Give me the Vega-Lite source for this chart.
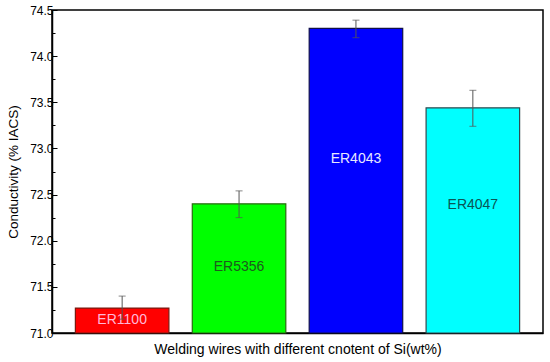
{
  "$schema": "https://vega.github.io/schema/vega-lite/v6.json",
  "width": 491,
  "height": 323,
  "autosize": {"type": "none"},
  "padding": {"left": 52, "top": 10, "right": 7, "bottom": 29},
  "background": "white",
  "data": {
    "values": [
      {"wire": "ER1100", "value": 71.27, "lo": 71.15, "hi": 71.40, "label_at": 71.14},
      {"wire": "ER5356", "value": 72.40, "lo": 72.25, "hi": 72.54, "label_at": 71.72},
      {"wire": "ER4043", "value": 74.30, "lo": 74.20, "hi": 74.39, "label_at": 72.89},
      {"wire": "ER4047", "value": 73.44, "lo": 73.24, "hi": 73.63, "label_at": 72.39}
    ]
  },
  "encoding": {
    "x": {
      "field": "wire",
      "type": "nominal",
      "sort": null,
      "scale": {"paddingInner": 0.2, "paddingOuter": 0.2},
      "axis": {
        "title": "Welding wires with different cnotent of Si(wt%)",
        "labels": false,
        "ticks": false,
        "domainColor": "#000",
        "domainWidth": 1.5,
        "titlePadding": 9,
        "titleFont": "Liberation Sans",
        "titleFontSize": 14,
        "titleFontWeight": "normal",
        "titleColor": "#000"
      }
    }
  },
  "layer": [
    {
      "mark": {"type": "bar", "strokeWidth": 1.2},
      "encoding": {
        "y": {
          "field": "value",
          "type": "quantitative",
          "scale": {"domain": [71, 74.5], "nice": false, "zero": false},
          "axis": {
            "title": "Conductivity (% IACS)",
            "values": [71, 71.5, 72, 72.5, 73, 73.5, 74, 74.5],
            "format": ".1f",
            "orient": "left",
            "grid": false,
            "tickSize": -5,
            "tickColor": "#000",
            "labelPadding": 4,
            "labelFont": "Liberation Sans",
            "labelFontSize": 12,
            "labelColor": "#000",
            "domainColor": "#000",
            "domainWidth": 1.5,
            "titleFont": "Liberation Sans",
            "titleFontSize": 13.5,
            "titleFontWeight": "normal",
            "titleColor": "#000",
            "titlePadding": 9
          }
        },
        "y2": {"datum": 71},
        "color": {
          "field": "wire",
          "type": "nominal",
          "scale": {
            "domain": ["ER1100", "ER5356", "ER4043", "ER4047"],
            "range": ["#ff0000", "#00ff00", "#0000ff", "#00ffff"]
          },
          "legend": null
        },
        "stroke": {
          "field": "wire",
          "type": "nominal",
          "scale": {
            "domain": ["ER1100", "ER5356", "ER4043", "ER4047"],
            "range": ["#7a1a10", "#2a6a10", "#10104a", "#304a50"]
          },
          "legend": null
        }
      }
    },
    {
      "mark": {"type": "text", "font": "Liberation Sans", "fontSize": 14, "baseline": "middle"},
      "encoding": {
        "y": {
          "field": "label_at",
          "type": "quantitative",
          "axis": {
            "orient": "left",
            "title": null,
            "values": [71.25, 71.75, 72.25, 72.75, 73.25, 73.75, 74.25],
            "labels": false,
            "domain": false,
            "grid": false,
            "tickSize": -3,
            "tickColor": "#000"
          }
        },
        "text": {"field": "wire"},
        "color": {
          "field": "wire",
          "type": "nominal",
          "scale": {
            "domain": ["ER1100", "ER5356", "ER4043", "ER4047"],
            "range": ["#ffb8d8", "#1d5a1d", "#e8e8ff", "#0a5555"]
          },
          "legend": null
        }
      }
    },
    {
      "mark": {"type": "rule", "color": "#555", "strokeWidth": 1},
      "encoding": {
        "y": {"field": "lo", "type": "quantitative", "axis": null},
        "y2": {"field": "hi"}
      }
    },
    {
      "mark": {"type": "tick", "color": "#555", "size": 7, "thickness": 1},
      "encoding": {
        "y": {"field": "hi", "type": "quantitative", "axis": null}
      }
    },
    {
      "mark": {"type": "tick", "color": "#555", "size": 7, "thickness": 1},
      "encoding": {
        "y": {"field": "lo", "type": "quantitative", "axis": null}
      }
    }
  ],
  "resolve": {"axis": {"y": "independent"}, "scale": {"color": "independent"}},
  "config": {
    "view": {"stroke": "#000", "strokeWidth": 1.5},
    "font": "Liberation Sans"
  }
}
